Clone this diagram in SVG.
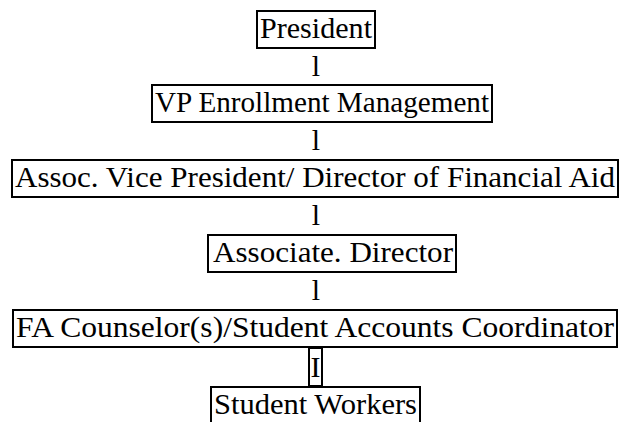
<svg xmlns="http://www.w3.org/2000/svg" width="621" height="422" viewBox="0 0 621 422">
  <style>
    .box { fill: #ffffff; stroke: #000000; stroke-width: 2; }
    text { font-family: "Liberation Serif", "Times New Roman", Times, "DejaVu Serif", serif; font-size: 30px; fill: #000000; }
    .link { text-anchor: middle; }
  </style>
  <rect width="621" height="422" fill="#ffffff"/>

  <!-- org chart nodes, top to bottom -->
  <g id="president">
    <rect class="box" x="257" y="11" width="118" height="37"/>
    <text x="260" y="38" textLength="112" lengthAdjust="spacingAndGlyphs" font-family="Liberation Serif, serif">President</text>
  </g>

  <g id="vp-enrollment">
    <rect class="box" x="152" y="85" width="340" height="37"/>
    <text x="155" y="112" textLength="334" lengthAdjust="spacingAndGlyphs" font-family="Liberation Serif, serif">VP Enrollment Management</text>
  </g>

  <g id="assoc-vp-director">
    <rect class="box" x="12" y="160" width="606" height="37"/>
    <text x="15" y="187" textLength="600" lengthAdjust="spacingAndGlyphs" font-family="Liberation Serif, serif">Assoc. Vice President/ Director of Financial Aid</text>
  </g>

  <g id="associate-director">
    <rect class="box" x="208" y="235" width="248" height="37"/>
    <text x="213" y="262" textLength="240" lengthAdjust="spacingAndGlyphs" font-family="Liberation Serif, serif">Associate. Director</text>
  </g>

  <g id="fa-counselors">
    <rect class="box" x="13" y="310" width="604" height="37"/>
    <text x="16" y="337" textLength="598" lengthAdjust="spacingAndGlyphs" font-family="Liberation Serif, serif">FA Counselor(s)/Student Accounts Coordinator</text>
  </g>

  <g id="student-workers">
    <rect class="box" x="211" y="387" width="209" height="40"/>
    <text x="214" y="414" textLength="203" lengthAdjust="spacingAndGlyphs" font-family="Liberation Serif, serif">Student Workers</text>
  </g>

  <!-- connectors: typed bar glyphs between the levels -->
  <g id="connectors">
    <text class="link" x="316" y="76" font-family="Liberation Serif, serif">l</text>
    <text class="link" x="316" y="150" font-family="Liberation Serif, serif">l</text>
    <text class="link" x="316" y="225" font-family="Liberation Serif, serif">l</text>
    <text class="link" x="316" y="300" font-family="Liberation Serif, serif">l</text>
    <rect class="box" x="309" y="348" width="13" height="38"/>
    <text class="link" x="315.5" y="377" font-family="Liberation Serif, serif">I</text>
  </g>
</svg>
